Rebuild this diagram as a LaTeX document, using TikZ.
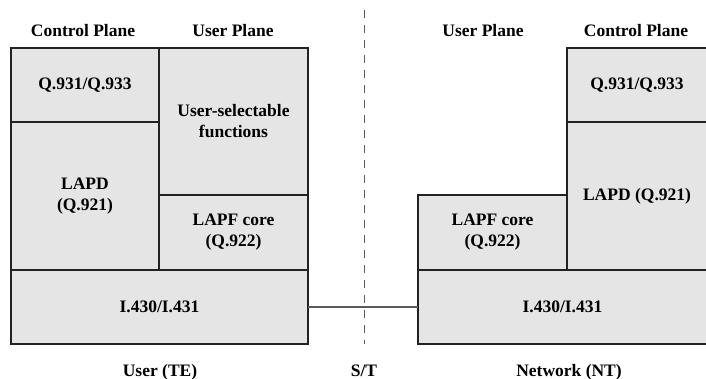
\documentclass[tikz,border=0pt]{standalone}
\usepackage{fontspec}
\setmainfont{Liberation Serif}
\usepackage{tikz}
\usetikzlibrary{positioning, calc}
\definecolor{layergray}  {RGB}{229, 229, 229}
\definecolor{edgedark}   {RGB}{ 34,  34,  34}
\definecolor{wiregray}   {RGB}{ 90,  90,  90}

\tikzset{
	layerbox/.style={draw=edgedark, line width=1.8pt, fill=layergray, rectangle,
		anchor=north west, inner sep=0pt, outer sep=0pt, align=center,
		font=\fontsize{17.5}{21}\selectfont\bfseries},
	planelabel/.style={anchor=base, inner sep=0pt,
		font=\fontsize{17.5}{21}\selectfont\bfseries}
}

\begin{document}
\begin{tikzpicture}[x=1pt,y=-1pt]
				\useasboundingbox (0,0) rectangle (706,379);
				% user side (TE)
				\node[layerbox, minimum width=148, minimum height=74]  (qctlL) at (11,48)  {Q.931/Q.933};
				\node[layerbox, minimum width=149, minimum height=147] (usersel) at (159,48) {User-selectable\\functions};
				\node[layerbox, minimum width=148, minimum height=148] (lapdL) at (11,122)  {LAPD\\(Q.921)};
				\node[layerbox, minimum width=149, minimum height=75]  (lapfL) at (159,195) {LAPF core\\(Q.922)};
				\node[layerbox, minimum width=297, minimum height=74]  (physL) at (11,270)  {I.430/I.431};
				% network side (NT)
				\node[layerbox, minimum width=149, minimum height=75]  (lapfR) at (418,195) {LAPF core\\(Q.922)};
				\node[layerbox, minimum width=140, minimum height=74]  (qctlR) at (567,48)  {Q.931/Q.933};
				\node[layerbox, minimum width=140, minimum height=148] (lapdR) at (567,122) {LAPD (Q.921)};
				\node[layerbox, minimum width=289, minimum height=74]  (physR) at (418,270) {I.430/I.431};
				% headings
				\node[planelabel] (cpL) at (83,37)  {Control Plane};
				\node[planelabel] (upL) at (233,37) {User Plane};
				\node[planelabel] (upR) at (483,37) {User Plane};
				\node[planelabel] (cpR) at (636,37) {Control Plane};
				\node[planelabel] (te)  at (160,376) {User (TE)};
				\node[planelabel] (st)  at (364,376) {S/T};
				\node[planelabel] (nt)  at (569,376) {Network (NT)};
				% reference point and link
				\coordinate (sttop) at (364,10);
				\coordinate (stbot) at (364,344);
				\draw[wiregray, line width=1pt, dash pattern=on 8pt off 7pt] (sttop) -- (stbot);
				\draw[wiregray, line width=1.4pt] (physL.east) -- (physR.west);
			\end{tikzpicture}
\end{document}
